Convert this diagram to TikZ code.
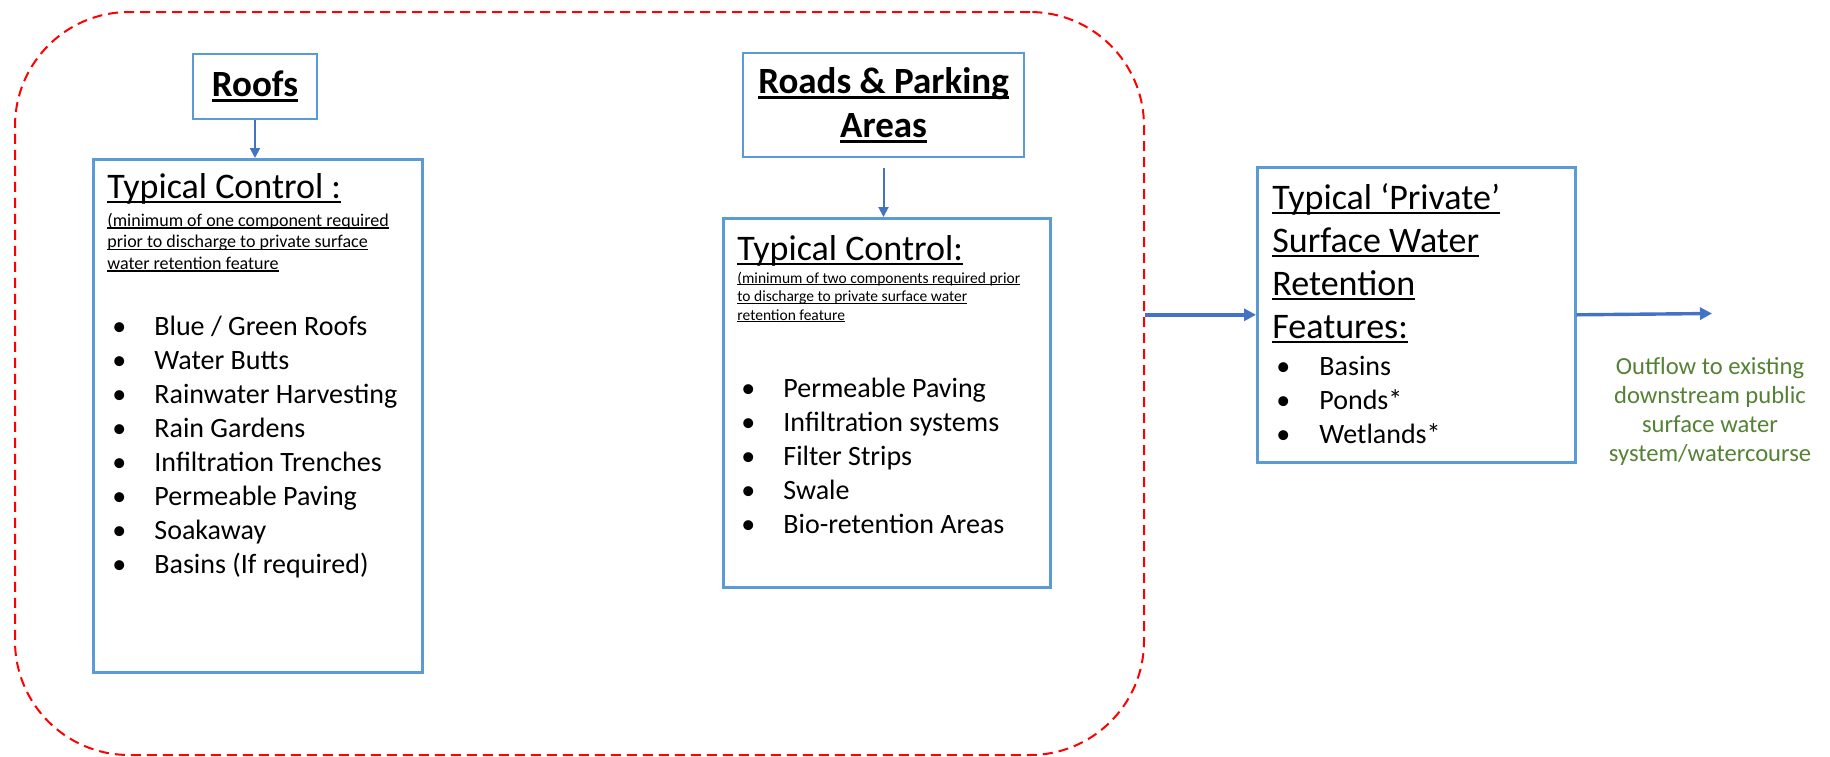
\documentclass[tikz,border=0pt]{standalone}
\usepackage{fontspec}
\setmainfont{Carlito}
\usetikzlibrary{arrows.meta}
\definecolor{boxblue}{RGB}{91,155,213}
\definecolor{arrowblue}{RGB}{68,114,196}
\definecolor{outgreen}{RGB}{84,130,53}
\newcommand{\ulbox}[1]{\setbox0=\hbox{#1}\rlap{\rule[-0.14em]{\wd0}{0.07em}}\box0}

\begin{document}
\begin{tikzpicture}[x=0.5pt, y=-0.5pt, >={Triangle[length=5pt,width=5pt]},
        srcbox/.style={draw=boxblue, line width=1.3pt, inner sep=0pt, align=center, font=\bfseries\fontsize{18.5}{22}\selectfont},
        ctlbox/.style={draw=boxblue, line width=1.3pt, inner sep=0pt, anchor=north west},
        txt/.style={inner sep=0pt, anchor=base west},
        head/.style={txt, font=\fontsize{18}{21.5}\selectfont},
        item/.style={txt, font=\fontsize{14}{17}\selectfont},
        flow/.style={->, arrowblue, line width=1pt},
        mainflow/.style={->, arrowblue, line width=1.7pt, >={Triangle[length=6pt,width=6pt]}}]
        \useasboundingbox (0,0) rectangle (1830,756);

        % dashed zone round the two source areas
        \node[draw=red, dash pattern=on 5pt off 3pt, line width=1pt, rounded corners=57pt, inner sep=0pt,
              anchor=north west, minimum width=564.5pt, minimum height=371.5pt] (zone) at (14,11) {};

        % roofs
        \node[srcbox, minimum width=62pt, minimum height=32.5pt] (roofs) at (255,86.5) {\ulbox{Roofs}};
        \node[ctlbox, minimum width=164.5pt, minimum height=256.5pt] (roofsctl) at (92,158) {};
        \node[head] (roofshead) at (107,198) {\ulbox{Typical Control :}};
        \foreach \ln [count=\i from 0] in {{(minimum of one component required}, {prior to discharge to private surface}, {water retention feature}}
            \node[txt, font=\fontsize{9}{10.75}\selectfont] (roofsnote\i) at (107,226+21.5*\i) {\ulbox{\ln}};
        \foreach \entry [count=\i from 0] in {Blue / Green Roofs, Water Butts, Rainwater Harvesting, Rain Gardens,
                Infiltration Trenches, Permeable Paving, Soakaway, Basins (If required)} {
            \node[item] (roofsbul\i) at (112,335+34*\i) {\textbullet};
            \node[item] (roofsitem\i) at (154,335+34*\i) {\entry};
        }

        % roads and parking
        \node[srcbox, minimum width=140.5pt, minimum height=52pt] (roads) at (883.5,105) {\ulbox{Roads \& Parking}\\\ulbox{Areas}};
        \node[ctlbox, minimum width=163.5pt, minimum height=184.5pt] (roadsctl) at (722,217) {};
        \node[head] (roadshead) at (737,260) {\ulbox{Typical Control:}};
        \foreach \ln [count=\i from 0] in {{(minimum of two components required prior}, {to discharge to private surface water}, {retention feature}}
            \node[txt, font=\fontsize{7.75}{9.25}\selectfont] (roadsnote\i) at (737,283+18.5*\i) {\ulbox{\ln}};
        \foreach \entry [count=\i from 0] in {Permeable Paving, Infiltration systems, Filter Strips, Swale, Bio-retention Areas} {
            \node[item] (roadsbul\i) at (741,397+34*\i) {\textbullet};
            \node[item] (roadsitem\i) at (783,397+34*\i) {\entry};
        }

        % private retention features
        \node[ctlbox, minimum width=159pt, minimum height=147.5pt] (private) at (1256,166) {};
        \foreach \ln [count=\i from 0] in {Typical ‘Private’, Surface Water, Retention, Features:}
            \node[head] (privhead\i) at (1272,209+43*\i) {\ulbox{\ln}};
        \foreach \entry [count=\i from 0] in {Basins, Ponds*, Wetlands*} {
            \node[item] (privbul\i) at (1276,375+34*\i) {\textbullet};
            \node[item] (privitem\i) at (1319,375+34*\i) {\entry};
        }

        % outflow
        \foreach \ln [count=\i from 0] in {Outflow to existing, downstream public, surface water, system/watercourse}
            \node[inner sep=0pt, anchor=base, text=outgreen, font=\fontsize{12.3}{14.5}\selectfont] (outtext\i) at (1710,374+29*\i) {\ln};
        \coordinate (outend) at (1712,313.5);

        % connectors
        \draw[flow] (roofs.south) -- (roofs.south |- roofsctl.north);
        \draw[flow] ([yshift=-5pt]roads.south) -- (roads.south |- roadsctl.north);
        \draw[mainflow] (zone.east |- private.west) -- (private.west);
        \draw[mainflow] (private.east) -- (outend);
    \end{tikzpicture}
\end{document}
